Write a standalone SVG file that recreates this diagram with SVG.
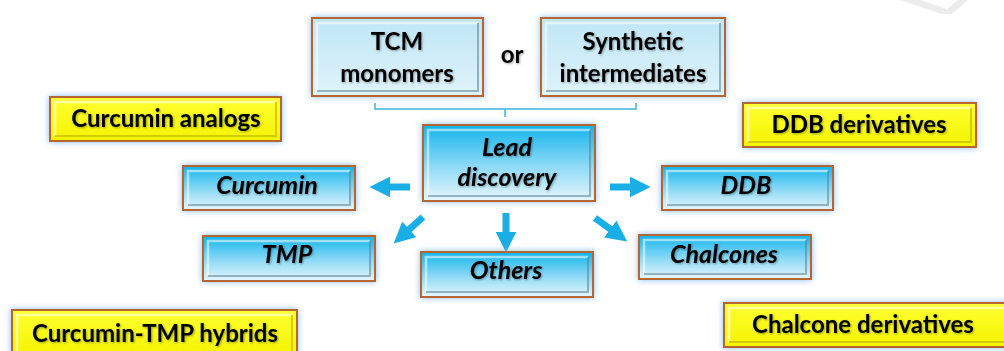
<svg xmlns="http://www.w3.org/2000/svg" width="1004" height="351" viewBox="0 0 1004 351">
<defs>
<linearGradient id="gBlue" x1="0" y1="0" x2="0" y2="1">
<stop offset="0" stop-color="#12b4ec"/>
<stop offset="0.55" stop-color="#8fdaf6"/>
<stop offset="1" stop-color="#e6f7fd"/>
</linearGradient>
<linearGradient id="gPale" x1="0" y1="0" x2="0" y2="1">
<stop offset="0" stop-color="#bfe6f5"/>
<stop offset="1" stop-color="#dff3fb"/>
</linearGradient>
<linearGradient id="gYellow" x1="0" y1="0" x2="0" y2="1">
<stop offset="0" stop-color="#ffff33"/>
<stop offset="1" stop-color="#f4f400"/>
</linearGradient>
<filter id="glow" x="-10%" y="-30%" width="120%" height="160%">
<feGaussianBlur in="SourceAlpha" stdDeviation="3" result="b"/>
<feFlood flood-color="#7fb4ee" flood-opacity="0.9"/>
<feComposite in2="b" operator="in" result="g"/>
<feMerge><feMergeNode in="g"/><feMergeNode in="SourceGraphic"/></feMerge>
</filter>
<filter id="tshadow" x="-5%" y="-20%" width="110%" height="140%">
<feGaussianBlur in="SourceAlpha" stdDeviation="0.8" result="b"/>
<feOffset dx="1.2" dy="1.2" in="b" result="o"/>
<feFlood flood-color="#000" flood-opacity="0.35"/>
<feComposite in2="o" operator="in" result="s"/>
<feMerge><feMergeNode in="s"/><feMergeNode in="SourceGraphic"/></feMerge>
</filter>
<marker id="ah" markerWidth="3" markerHeight="3" refX="1.2" refY="1.5" orient="auto" markerUnits="strokeWidth">
<path d="M0,0 L3,1.5 L0,3 Z" fill="#1aaee6"/>
</marker>
</defs>
<style>
.box{stroke:#b4662e;stroke-width:2;filter:url(#glow)}
.blue{fill:url(#gBlue)}
.pale{fill:url(#gPale)}
.yel{fill:url(#gYellow)}
.bev{fill:none;stroke-width:2.5;stroke:#ffffff;stroke-opacity:0.55}
.bevd{fill:none;stroke-width:2;stroke:#5c7f8c;stroke-opacity:0.55}
.bevy{fill:none;stroke-width:2;stroke:#b9b000;stroke-opacity:0.6}
.t{font-family:Lato,"Open Sans","Liberation Sans",sans-serif;font-weight:bold;fill:#000;text-anchor:middle;filter:url(#tshadow)}
.ti{font-style:italic;font-size:25px}
.tn{font-size:24px}
.conn{stroke:#1aaee6;stroke-width:7;fill:none;marker-end:url(#ah)}
.brace{stroke:#3cb4dc;stroke-width:1.5;fill:none}
</style>
<rect width="1004" height="351" fill="#ffffff"/>
<path d="M900,0 L942,14 L952,14 L968,0 L958,0 L947,9 L920,0 Z" fill="#ececec"/>

<g id="connectors">
<path class="brace" d="M375,103 L375,109 L636,109 L636,103 M505,109 L505,117"/>
<line class="conn" x1="410" y1="187" x2="382" y2="187"/>
<line class="conn" x1="610" y1="187" x2="638" y2="187"/>
<line class="conn" x1="506" y1="213" x2="506" y2="240"/>
<line class="conn" x1="423" y1="217" x2="403" y2="235"/>
<line class="conn" x1="595" y1="218" x2="617" y2="234"/>
</g>

<g id="tcm-monomers">
<rect class="box pale" x="312" y="18" width="171" height="78"/>
<path class="bev" d="M317,91 L317,23 L478,23"/>
<path class="bevd" d="M317,91 L478,91 L478,23"/>
<text class="t tn" x="397" y="50">TCM</text>
<text class="t tn" x="397" y="82">monomers</text>
</g>

<g id="or-label">
<text class="t tn" x="512" y="63">or</text>
</g>

<g id="synthetic-intermediates">
<rect class="box pale" x="541" y="18" width="184" height="78"/>
<path class="bev" d="M546,91 L546,23 L720,23"/>
<path class="bevd" d="M546,91 L720,91 L720,23"/>
<text class="t tn" x="633" y="50">Synthetic</text>
<text class="t tn" x="633" y="82">intermediates</text>
</g>

<g id="lead-discovery">
<rect class="box blue" x="423" y="125" width="172" height="76"/>
<path class="bev" d="M428,196 L428,130 L590,130"/>
<path class="bevd" d="M428,196 L590,196 L590,130"/>
<text class="t ti" x="507" y="156">Lead</text>
<text class="t ti" x="507" y="186">discovery</text>
</g>

<g id="curcumin">
<rect class="box blue" x="183" y="166" width="172" height="44"/>
<path class="bev" d="M188,205 L188,171 L350,171"/>
<path class="bevd" d="M188,205 L350,205 L350,171"/>
<text class="t ti" x="267" y="194">Curcumin</text>
</g>

<g id="ddb">
<rect class="box blue" x="662" y="166" width="171" height="44"/>
<path class="bev" d="M667,205 L667,171 L828,171"/>
<path class="bevd" d="M667,205 L828,205 L828,171"/>
<text class="t ti" x="746" y="194">DDB</text>
</g>

<g id="tmp">
<rect class="box blue" x="203" y="236" width="172" height="45"/>
<path class="bev" d="M208,276 L208,241 L370,241"/>
<path class="bevd" d="M208,276 L370,276 L370,241"/>
<text class="t ti" x="287" y="263">TMP</text>
</g>

<g id="others">
<rect class="box blue" x="421" y="252" width="172" height="45"/>
<path class="bev" d="M426,292 L426,257 L588,257"/>
<path class="bevd" d="M426,292 L588,292 L588,257"/>
<text class="t ti" x="506" y="279">Others</text>
</g>

<g id="chalcones">
<rect class="box blue" x="639" y="235" width="172" height="44"/>
<path class="bev" d="M644,274 L644,240 L806,240"/>
<path class="bevd" d="M644,274 L806,274 L806,240"/>
<text class="t ti" x="724" y="263">Chalcones</text>
</g>

<g id="curcumin-analogs">
<rect class="box yel" x="50" y="97" width="231" height="44"/>
<path class="bev" d="M55,136 L55,102 L276,102"/>
<path class="bevy" d="M55,136 L276,136 L276,102"/>
<text class="t tn" x="166" y="127">Curcumin analogs</text>
</g>

<g id="ddb-derivatives">
<rect class="box yel" x="743" y="103" width="233" height="44"/>
<path class="bev" d="M748,142 L748,108 L971,108"/>
<path class="bevy" d="M748,142 L971,142 L971,108"/>
<text class="t tn" x="859" y="133">DDB derivatives</text>
</g>

<g id="curcumin-tmp-hybrids">
<rect class="box yel" x="12" y="310" width="285" height="46"/>
<path class="bev" d="M17,356 L17,315 L292,315"/>
<path class="bevy" d="M292,315 L292,356"/>
<text class="t tn" x="155" y="342">Curcumin-TMP hybrids</text>
</g>

<g id="chalcone-derivatives">
<rect class="box yel" x="724" y="303" width="284" height="44"/>
<path class="bev" d="M729,342 L729,308 L1004,308"/>
<path class="bevy" d="M729,342 L1004,342"/>
<text class="t tn" x="863" y="333">Chalcone derivatives</text>
</g>
</svg>
